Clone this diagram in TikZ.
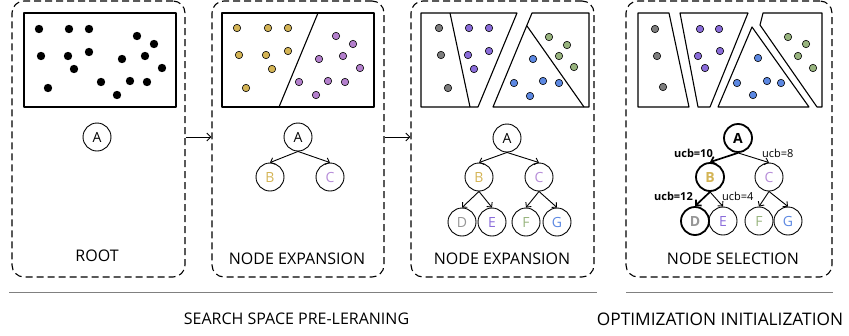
\documentclass[tikz,border=0pt]{standalone}
\usepackage{fontspec}
\setmainfont{Open Sans}
\usetikzlibrary{arrows.meta}
\definecolor{yel}{RGB}{212,180,85}
\definecolor{orch}{RGB}{180,128,205}
\definecolor{viol}{RGB}{138,108,218}
\definecolor{grayd}{RGB}{125,125,125}
\definecolor{grn}{RGB}{152,180,126}
\definecolor{blu}{RGB}{92,136,226}
\definecolor{ltorch}{RGB}{182,140,216}
\definecolor{ltgray}{RGB}{150,150,150}
\begin{document}
\begin{tikzpicture}[x=1pt,y=-1pt,
  panel/.style={draw, line width=1.1pt, dash pattern=on 7pt off 4pt, rounded corners=12pt, minimum height=276pt, inner sep=0pt},
  region/.style={draw, line width=1.1pt, line join=round},
  dotc/.style={draw=black, line width=0.6pt, fill=#1},
  tnode/.style={circle, draw, line width=0.9pt, minimum size=28pt, inner sep=0pt, font=\fontsize{14}{14}\selectfont},
  bnode/.style={tnode, line width=1.8pt, font=\fontsize{14}{14}\selectfont\bfseries},
  tarrow/.style={-{Straight Barb[length=3.5pt,width=7pt]}, line width=0.9pt},
  barrow/.style={-{Straight Barb[length=4pt,width=8pt]}, line width=1.7pt},
  plabel/.style={font=\fontsize{16}{17}\selectfont},
  blabel/.style={font=\fontsize{16}{17}\selectfont},
  ucb/.style={font=\fontsize{11}{12}\selectfont, inner sep=0pt},
]
\useasboundingbox (0,0) rectangle (849,335);

% panels
\node[panel, minimum width=173pt] (p1) at (98.5,139) {};
\node[panel, minimum width=172pt] (p2) at (298,139) {};
\node[panel, minimum width=183pt] (p3) at (502.5,139) {};
\node[panel, minimum width=206pt] (p4) at (729,139) {};

% panel 1 region
\draw[region] (24,13) rectangle (176,107);
\foreach \x/\y in {39/29,69/29,89/29,137/36,154/44,41/56,68/56,89/52,122/59,145/56,74/69,162/68,48/88,101/82,130/81,147/82,117/95}
  \fill (\x,\y) circle (4.2);

% panel 2 region
\draw[region] (222,13) rectangle (374,107);
\draw[region] (318,13) -- (279,107);
\foreach \x/\y in {237/28,268/28,288/28,239/55,266/55,288/51,272/69,246/88}
  \filldraw[dotc=yel] (\x,\y) circle (3.7);
\foreach \x/\y in {336/36,353/44,319/59,343/56,360/68,299/82,328/81,345/82,316/95}
  \filldraw[dotc=orch] (\x,\y) circle (3.7);

% panel 3 regions
\draw[region] (421,13) -- (517,13) -- (478,107) -- (421,107) -- cycle;
\draw[region] (450,13) -- (470,107);
\draw[region] (532,13) -- (589,13) -- (589,107) -- (493,107) -- cycle;
\draw[region] (527,26) -- (584,107);
\foreach \x/\y in {439/28,441/55,448/88}
  \filldraw[dotc=grayd] (\x,\y) circle (3.7);
\foreach \x/\y in {469/28,489/28,468/55,489/51,474/69}
  \filldraw[dotc=viol] (\x,\y) circle (3.7);
\foreach \x/\y in {549/37,567/45,559/56,574/67}
  \filldraw[dotc=grn] (\x,\y) circle (3.7);
\foreach \x/\y in {533/59,514/83,543/81,559/83,530/96}
  \filldraw[dotc=blu] (\x,\y) circle (3.7);

% panel 4 regions
\draw[region] (638,13) -- (669,13) -- (689,107) -- (638,107) -- cycle;
\draw[region] (680,13) -- (748,13) -- (710,107) -- (698,107) -- cycle;
\draw[region] (752,27) -- (809,107) -- (718,107) -- cycle;
\draw[region] (763,13) -- (822,13) -- (822,107) -- (817,107) -- (760,25) -- cycle;
\foreach \x/\y in {655/29,657/56,663/87}
  \filldraw[dotc=grayd] (\x,\y) circle (3.7);
\foreach \x/\y in {700/29,719/29,698/56,720/51,705/68}
  \filldraw[dotc=viol] (\x,\y) circle (3.7);
\foreach \x/\y in {788/37,806/44,798/56,813/68}
  \filldraw[dotc=grn] (\x,\y) circle (3.7);
\foreach \x/\y in {758/58,737/83,767/81,781/83,753/95}
  \filldraw[dotc=blu] (\x,\y) circle (3.7);

% trees
\node[tnode] (A1) at (97,137) {A};

\node[tnode] (A2) at (298,137) {A};
\node[tnode, text=yel] (B2) at (270,177) {B};
\node[tnode, text=ltorch] (C2) at (330,177) {C};
\draw[tarrow] (A2.south) -- (B2.north);
\draw[tarrow] (A2.south) -- (C2.north);

\draw[-{Straight Barb[length=4pt,width=8pt]}, line width=0.9pt] (p1.east |- A1) -- (p2.west |- A1);
\draw[-{Straight Barb[length=4pt,width=8pt]}, line width=0.9pt] (p2.east |- A2) -- (p3.west |- A2);

\node[tnode] (A3) at (507,138) {A};
\node[tnode, text=yel] (B3) at (479,177) {B};
\node[tnode, text=ltorch] (C3) at (539,177) {C};
\node[tnode, text=ltgray] (D3) at (462,222) {D};
\node[tnode, text=viol] (E3) at (492,222) {E};
\node[tnode, text=grn] (F3) at (526,222) {F};
\node[tnode, text=blu] (G3) at (557,222) {G};
\draw[tarrow] (A3.south) -- (B3.north);
\draw[tarrow] (A3.south) -- (C3.north);
\draw[tarrow] (B3.south) -- (D3.north);
\draw[tarrow] (B3.south) -- (E3.north);
\draw[tarrow] (C3.south) -- (F3.north);
\draw[tarrow] (C3.south) -- (G3.north);

\node[bnode] (A4) at (738,138) {A};
\node[bnode, text=yel] (B4) at (710,177) {B};
\node[tnode, text=ltorch] (C4) at (769,177) {C};
\node[bnode, text=ltgray] (D4) at (695,221) {D};
\node[tnode, text=viol] (E4) at (723,221) {E};
\node[tnode, text=grn] (F4) at (759,221) {F};
\node[tnode, text=blu] (G4) at (788,221) {G};
\draw[barrow] (A4.south) -- (B4.north);
\draw[tarrow] (A4.south) -- (C4.north);
\draw[barrow] (B4.south) -- (D4.north);
\draw[tarrow] (B4.south) -- (E4.north);
\draw[tarrow] (C4.south) -- (F4.north);
\draw[tarrow] (C4.south) -- (G4.north);
\node[ucb, anchor=east, font=\fontsize{11}{12}\selectfont\bfseries] (u1) at (713,153) {ucb=10};
\node[ucb, anchor=west] (u2) at (762,153) {ucb=8};
\node[ucb, anchor=east, font=\fontsize{11}{12}\selectfont\bfseries] (u3) at (693,196) {ucb=12};
\node[ucb, anchor=west] (u4) at (722,196) {ucb=4};

% panel labels
\node[plabel] (l1) at (97,256) {ROOT};
\node[plabel] (l2) at (297,259) {NODE EXPANSION};
\node[plabel] (l3) at (502,259) {NODE EXPANSION};
\node[plabel] (l4) at (733,259) {NODE SELECTION};

% bottom
\coordinate (s1a) at (9,292);
\coordinate (s1b) at (597,292);
\coordinate (s2a) at (626,292);
\coordinate (s2b) at (833,292);
\draw[gray, line width=0.9pt] (s1a) -- (s1b);
\draw[gray, line width=0.9pt] (s2a) -- (s2b);
\node[blabel] (b1) at (296.5,319) {SEARCH SPACE PRE-LERANING};
\node[blabel, font=\fontsize{17.3}{18}\selectfont] (b2) at (720,319) {OPTIMIZATION INITIALIZATION};
\end{tikzpicture}
\end{document}
